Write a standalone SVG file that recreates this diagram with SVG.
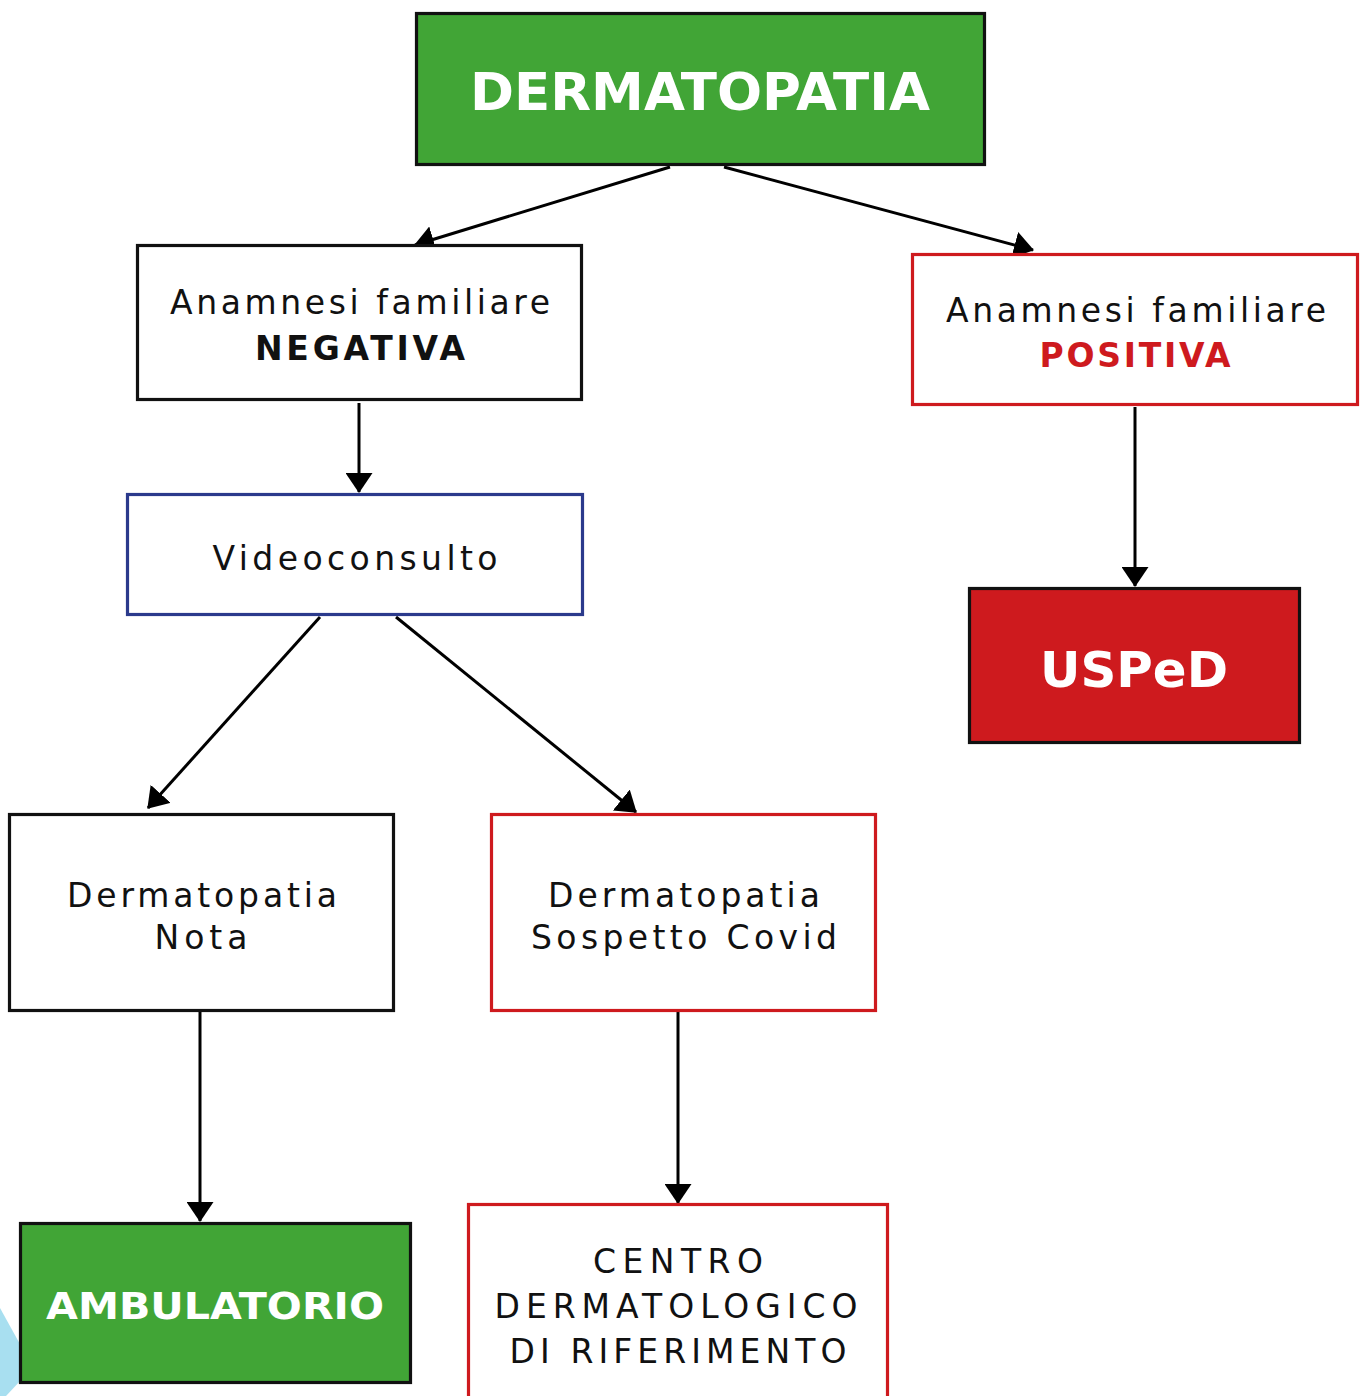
<svg xmlns="http://www.w3.org/2000/svg" width="1360" height="1396" viewBox="0 0 1360 1396">
<style>
.box{fill:#fff;stroke-width:3.2}
.k{stroke:#111}
.r{stroke:#CE1A1E}
.b{stroke:#2B3A8C}
.green{fill:#41A536}
.red{fill:#CE1A1E}
.t{font-family:"DejaVu Sans","Liberation Sans",Arial,sans-serif;font-size:33px;fill:#111;text-anchor:middle}
.tb{font-weight:bold}
.h{font-family:"DejaVu Sans","Liberation Sans",Arial,sans-serif;font-weight:bold;fill:#fff;text-anchor:middle}
.c{stroke:#000;stroke-width:3;fill:none;marker-end:url(#ah)}
</style>
<defs>
<marker id="ah" markerUnits="userSpaceOnUse" markerWidth="20" markerHeight="27" refX="19" refY="13.5" orient="auto" viewBox="0 0 20 27">
<path d="M0,0 L20,13.5 L0,27 Z" fill="#000"/>
</marker>
</defs>
<rect width="1360" height="1396" fill="#fff"/>
<polygon points="0,1308 21,1346 21,1380 6,1396 0,1396" fill="#A8DFF0"/>
<g id="connectors">
<line class="c" x1="670" y1="167" x2="415" y2="245"/>
<line class="c" x1="724" y1="167" x2="1033" y2="250"/>
<line class="c" x1="359" y1="403" x2="359" y2="492"/>
<line class="c" x1="1135" y1="407" x2="1135" y2="586"/>
<line class="c" x1="320" y1="617" x2="148" y2="808"/>
<line class="c" x1="396" y1="617" x2="636" y2="812"/>
<line class="c" x1="200" y1="1012" x2="200" y2="1221"/>
<line class="c" x1="678" y1="1012" x2="678" y2="1203"/>
</g>
<g id="dermatopatia">
<rect class="box k green" x="416.5" y="13.5" width="568" height="151"/>
<text class="h" x="700" y="110" font-size="51" textLength="460" lengthAdjust="spacingAndGlyphs">DERMATOPATIA</text>
</g>
<g id="negativa">
<rect class="box k" x="137.5" y="245.5" width="444" height="154"/>
<text class="t" x="360" y="314" textLength="380" lengthAdjust="spacing">Anamnesi familiare</text>
<text class="t tb" x="360" y="360" textLength="210" lengthAdjust="spacing">NEGATIVA</text>
</g>
<g id="positiva">
<rect class="box r" x="912.5" y="254.5" width="445" height="150"/>
<text class="t" x="1136" y="322" textLength="380" lengthAdjust="spacing">Anamnesi familiare</text>
<text class="t tb" x="1135" y="367" style="fill:#CE1A1E" textLength="191" lengthAdjust="spacing">POSITIVA</text>
</g>
<g id="usped">
<rect class="box k red" x="969.5" y="588.5" width="330" height="154"/>
<text class="h" x="1134" y="687" font-size="49" textLength="188" lengthAdjust="spacingAndGlyphs">USPeD</text>
</g>
<g id="videoconsulto">
<rect class="box b" x="127.5" y="494.5" width="455" height="120"/>
<text class="t" x="355" y="570" textLength="285" lengthAdjust="spacing">Videoconsulto</text>
</g>
<g id="nota">
<rect class="box k" x="9.5" y="814.5" width="384" height="196"/>
<text class="t" x="202" y="907" textLength="270" lengthAdjust="spacing">Dermatopatia</text>
<text class="t" x="201" y="949" textLength="93" lengthAdjust="spacing">Nota</text>
</g>
<g id="covid">
<rect class="box r" x="491.5" y="814.5" width="384" height="196"/>
<text class="t" x="684" y="907" textLength="272" lengthAdjust="spacing">Dermatopatia</text>
<text class="t" x="684" y="949" textLength="306" lengthAdjust="spacing">Sospetto Covid</text>
</g>
<g id="ambulatorio">
<rect class="box k green" x="20.5" y="1223.5" width="390" height="159"/>
<text class="h" x="215" y="1319" font-size="37" textLength="338" lengthAdjust="spacingAndGlyphs">AMBULATORIO</text>
</g>
<g id="centro">
<rect class="box r" x="468.5" y="1204.5" width="419" height="220"/>
<text class="t" x="678" y="1273" textLength="170" lengthAdjust="spacing">CENTRO</text>
<text class="t" x="676" y="1318" textLength="363" lengthAdjust="spacing">DERMATOLOGICO</text>
<text class="t" x="678" y="1363" textLength="337" lengthAdjust="spacing">DI RIFERIMENTO</text>
</g>
</svg>
